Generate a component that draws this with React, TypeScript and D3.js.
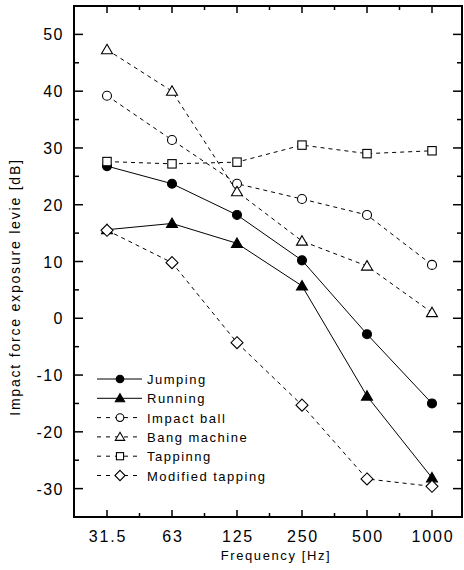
import React, { useEffect, useRef } from "react";
import * as d3 from "d3";

// Octave band centre frequencies (x categories)
const FREQS = ["31.5", "63", "125", "250", "500", "1000"];

// Impact force exposure level [dB] per source
const JUMPING = [26.8, 23.7, 18.2, 10.2, -2.8, -15.0];
const RUNNING = [15.6, 16.7, 13.2, 5.7, -13.7, -28.1];
const IMPACT_BALL = [39.2, 31.4, 23.7, 21.0, 18.2, 9.4];
const BANG_MACHINE = [47.3, 40.0, 22.3, 13.6, 9.2, 1.0];
const TAPPING = [27.6, 27.2, 27.5, 30.5, 29.0, 29.5];
const MODIFIED_TAPPING = [15.5, 9.8, -4.3, -15.3, -28.3, -29.6];

const Y_TICKS = [-30, -20, -10, 0, 10, 20, 30, 40, 50];

const SERIES = [
  { name: "Jumping", values: JUMPING, marker: "circle", filled: true, dashed: false },
  { name: "Running", values: RUNNING, marker: "triangle", filled: true, dashed: false },
  { name: "Impact ball", values: IMPACT_BALL, marker: "circle", filled: false, dashed: true },
  { name: "Bang machine", values: BANG_MACHINE, marker: "triangle", filled: false, dashed: true },
  { name: "Tappinng", values: TAPPING, marker: "square", filled: false, dashed: true },
  { name: "Modified tapping", values: MODIFIED_TAPPING, marker: "diamond", filled: false, dashed: true },
];

const FONT = "'Liberation Sans', Arial, sans-serif";

function drawMarker(g, type, x, y, s, filled) {
  let el;
  if (type === "circle") {
    el = g.append("circle").attr("cx", x).attr("cy", y).attr("r", s * 0.45);
  } else if (type === "triangle") {
    const h = s * 0.9;
    el = g
      .append("path")
      .attr("d", `M${x},${y - h * 0.6}L${x + s * 0.55},${y + h * 0.45}L${x - s * 0.55},${y + h * 0.45}Z`);
  } else if (type === "square") {
    const a = s * 0.42;
    el = g.append("rect").attr("x", x - a).attr("y", y - a).attr("width", a * 2).attr("height", a * 2);
  } else {
    const a = s * 0.6;
    el = g.append("path").attr("d", `M${x},${y - a}L${x + a},${y}L${x},${y + a}L${x - a},${y}Z`);
  }
  el.attr("fill", filled ? "#000" : "#fff").attr("stroke", "#000").attr("stroke-width", 1.1);
}

export default function App() {
  const svgRef = useRef(null);

  useEffect(() => {
    const width = 464;
    const height = 570;
    const left = 74, right = 462, top = 6, bottom = 517;

    const root = d3.select(svgRef.current);
    root.selectAll("*").remove();
    root.attr("width", width).attr("height", height);
    const svg = root.append("g");

    const x = d3.scalePoint().domain(FREQS).range([107, 432]);
    const y = d3.scaleLinear().domain([-35, 55]).range([bottom, top]);

    // frame
    svg
      .append("rect")
      .attr("x", left)
      .attr("y", top)
      .attr("width", right - left)
      .attr("height", bottom - top)
      .attr("fill", "none")
      .attr("stroke", "#000")
      .attr("stroke-width", 2);

    // ticks
    const minorY = d3.range(-35, 56, 5);
    const ticks = svg.append("g").attr("stroke", "#000").attr("stroke-width", 1.5);
    minorY.forEach((v) => {
      const major = v % 10 === 0;
      const len = major ? 9 : 5;
      ticks.append("line").attr("x1", left).attr("x2", left + len).attr("y1", y(v)).attr("y2", y(v));
      ticks.append("line").attr("x1", right).attr("x2", right - len).attr("y1", y(v)).attr("y2", y(v));
    });
    const step = x.step();
    FREQS.forEach((f, i) => {
      const px = x(f);
      ticks.append("line").attr("x1", px).attr("x2", px).attr("y1", bottom).attr("y2", bottom - 7);
      ticks.append("line").attr("x1", px).attr("x2", px).attr("y1", top).attr("y2", top + 7);
      if (i < FREQS.length - 1) {
        const mx = px + step / 2;
        ticks.append("line").attr("x1", mx).attr("x2", mx).attr("y1", bottom).attr("y2", bottom - 4);
        ticks.append("line").attr("x1", mx).attr("x2", mx).attr("y1", top).attr("y2", top + 4);
      }
    });

    // tick labels
    svg
      .append("g")
      .selectAll("text")
      .data(Y_TICKS)
      .join("text")
      .attr("x", 64)
      .attr("y", (d) => y(d) + 6)
      .attr("text-anchor", "end")
      .style("font-family", FONT)
      .style("font-size", "16px")
      .style("letter-spacing", "1.5px")
      .text((d) => d);

    svg
      .append("g")
      .selectAll("text")
      .data(FREQS)
      .join("text")
      .attr("x", (d) => x(d) + 1)
      .attr("y", 542)
      .attr("text-anchor", "middle")
      .style("font-family", FONT)
      .style("font-size", "16px")
      .style("letter-spacing", "1.8px")
      .text((d) => d);

    // axis titles
    svg
      .append("text")
      .attr("x", 276)
      .attr("y", 560)
      .attr("text-anchor", "middle")
      .style("font-family", FONT)
      .style("font-size", "13px")
      .style("letter-spacing", "1.6px")
      .text("Frequency [Hz]");

    svg
      .append("text")
      .attr("transform", "translate(20,287) rotate(-90)")
      .attr("text-anchor", "middle")
      .style("font-family", FONT)
      .style("font-size", "14px")
      .style("letter-spacing", "1.8px")
      .text("Impact force exposure levie [dB]");

    // series
    const line = d3
      .line()
      .x((d) => x(d[0]))
      .y((d) => y(d[1]));

    SERIES.forEach((s) => {
      svg
        .append("path")
        .datum(FREQS.map((f, i) => [f, s.values[i]]))
        .attr("d", line)
        .attr("fill", "none")
        .attr("stroke", "#000")
        .attr("stroke-width", 1)
        .attr("stroke-dasharray", s.dashed ? "4,4" : null);
    });
    SERIES.forEach((s) => {
      const g = svg.append("g");
      FREQS.forEach((f, i) => drawMarker(g, s.marker, x(f), y(s.values[i]), 10, s.filled));
    });

    // legend
    const legend = svg.append("g");
    SERIES.forEach((s, i) => {
      const ly = 379 + i * 19.3;
      legend
        .append("line")
        .attr("x1", 97)
        .attr("x2", 142)
        .attr("y1", ly)
        .attr("y2", ly)
        .attr("stroke", "#000")
        .attr("stroke-width", 1)
        .attr("stroke-dasharray", s.dashed ? "4,5" : null);
      drawMarker(legend, s.marker, 120, ly, 8.5, s.filled);
      legend
        .append("text")
        .attr("x", 147)
        .attr("y", ly + 5)
        .style("font-family", FONT)
        .style("font-size", "13px")
        .style("letter-spacing", "1.5px")
        .text(s.name);
    });
  }, []);

  return (
    <svg ref={svgRef} style={{ position: "absolute", left: 0, top: 0, background: "#fff" }} />
  );
}
